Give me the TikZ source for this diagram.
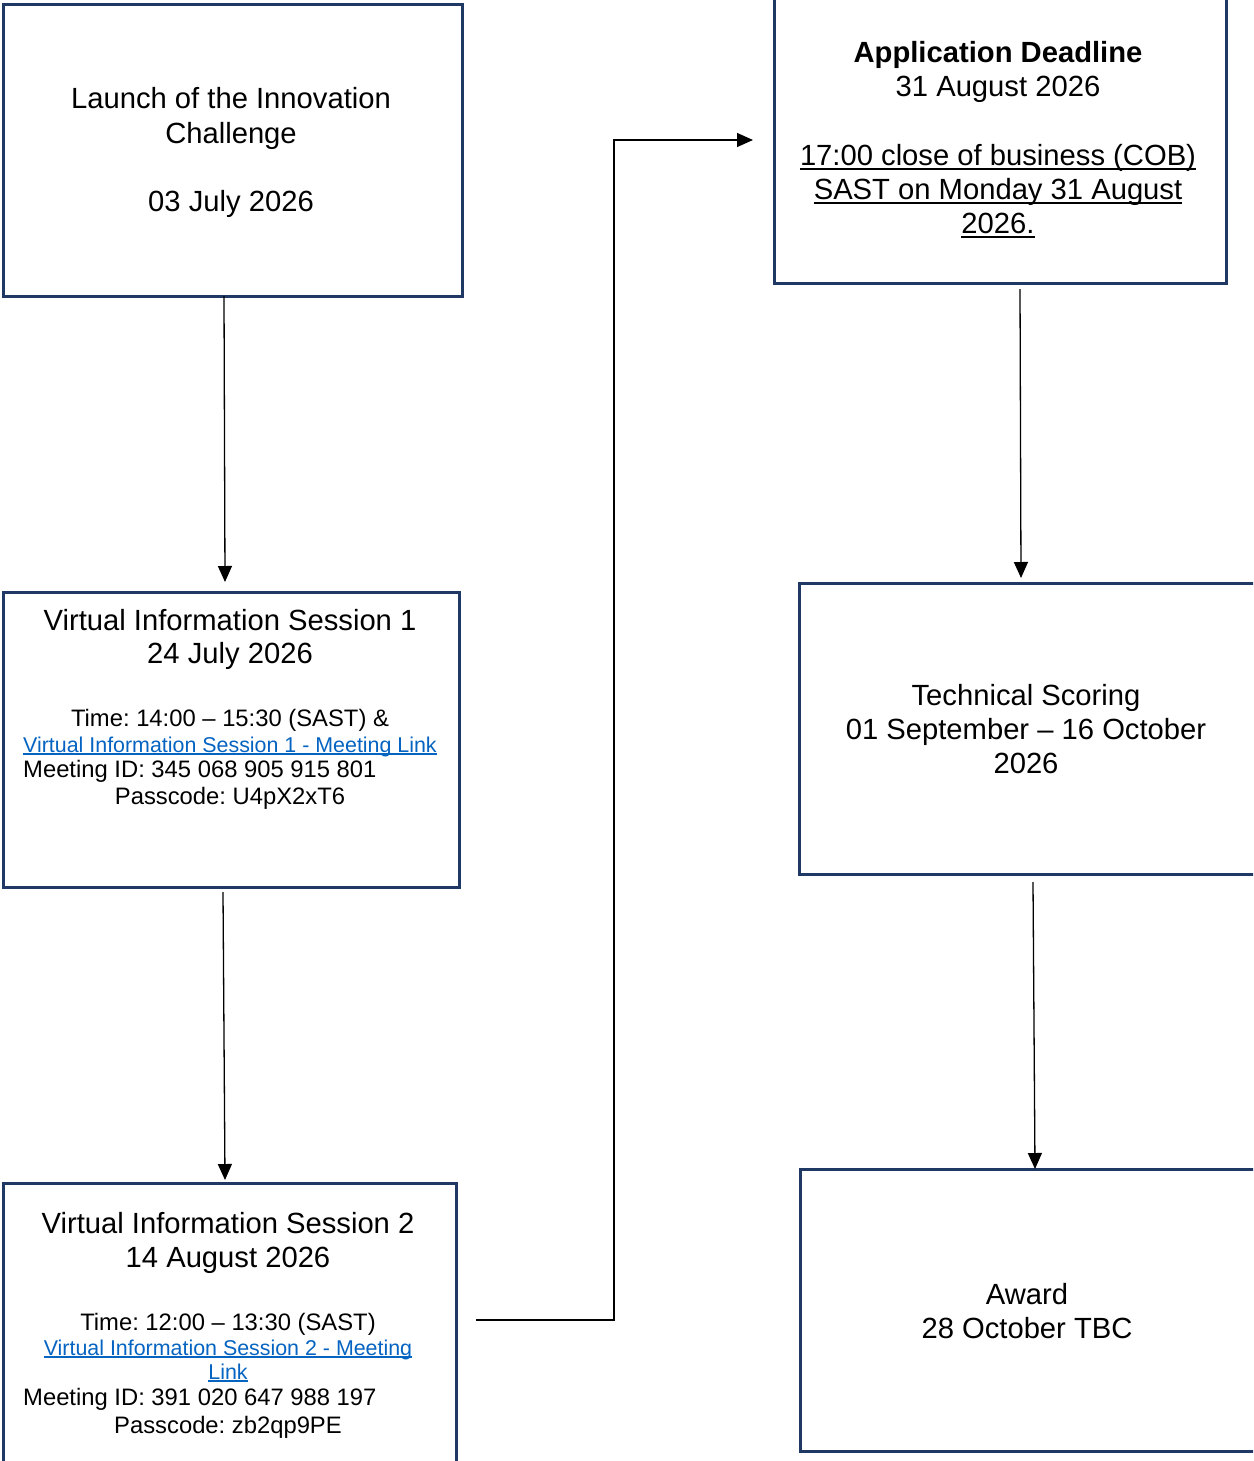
\documentclass[tikz,border=0pt]{standalone}
\usepackage{fontspec}
\setmainfont{Liberation Sans}
\usetikzlibrary{arrows.meta}
\definecolor{navy}{HTML}{1F3864}
\definecolor{linkblue}{HTML}{0563C1}
\newcommand\myul[2]{\setbox0=\hbox{#2}\rlap{\rule[#1]{\wd0}{1.7pt}}\box0}
\frenchspacing
\tikzset{
  box/.style={draw=navy, line width=2.6pt, fill=none, inner sep=0pt, anchor=north west},
  big/.style={font=\fontsize{29.2}{34}\selectfont\frenchspacing, inner sep=0pt, anchor=base},
  small/.style={font=\fontsize{23.8}{26.3}\selectfont\frenchspacing, inner sep=0pt, anchor=base},
  linktext/.style={font=\fontsize{21.4}{24}\selectfont\frenchspacing, inner sep=0pt, anchor=base, text=linkblue},
  arr/.style={draw=black, line width=1.3pt, -{Triangle[width=14pt,length=16pt]}},
}
\begin{document}
\begin{tikzpicture}[x=1pt,y=-1pt]
\useasboundingbox (0,0) rectangle (1253,1461);
\clip (0,0) rectangle (1253,1461);
% boxes
\node[box, minimum width=459pt, minimum height=292pt] (b1) at (2,3) {};
\node[box, minimum width=456pt, minimum height=295pt] (b2) at (2,591) {};
\node[box, minimum width=453pt, minimum height=320pt] (b3) at (2,1182) {};
\node[box, minimum width=452pt, minimum height=294pt] (b4) at (773,-12) {};
\node[box, minimum width=470pt, minimum height=291pt] (b5) at (798,582) {};
\node[box, minimum width=470pt, minimum height=282pt] (b6) at (799,1168) {};
% box 1 text
\node[big] (t11) at (231,109) {Launch of the Innovation};
\node[big] (t12) at (231,143) {Challenge};
\node[big] (t13) at (231,211) {03 July 2026};
% box 2 text
\node[big] (t21) at (230,630) {Virtual Information Session 1};
\node[big] (t22) at (230,663) {24 July 2026};
\node[small] (t23) at (230,726) {Time: 14:00 – 15:30 (SAST) \&};
\node[linktext] (t24) at (230,752) {\myul{-2.6pt}{Virtual Information Session 1 - Meeting Link}};
\node[small, anchor=base west] (t25) at (23,777) {Meeting ID: 345 068 905 915 801};
\node[small] (t26) at (230,804) {Passcode: U4pX2xT6};
% box 3 text
\node[big] (t31) at (228,1233) {Virtual Information Session 2};
\node[big] (t32) at (228,1267) {14 August 2026};
\node[small] (t33) at (228,1330) {Time: 12:00 – 13:30 (SAST)};
\node[linktext] (t34) at (228,1355) {\myul{-2.6pt}{Virtual Information Session 2 - Meeting}};
\node[linktext] (t35) at (228,1379) {\myul{-2.6pt}{Link}};
\node[small, anchor=base west] (t36) at (23,1405) {Meeting ID: 391 020 647 988 197};
\node[small] (t37) at (228,1433) {Passcode: zb2qp9PE};
% box 4 text
\node[big, font=\fontsize{29.2}{34}\selectfont\bfseries] (t41) at (998,63) {Application Deadline};
\node[big] (t42) at (998,97) {31 August 2026};
\node[big] (t43) at (998,165) {\myul{-5pt}{17:00 close of business (COB)}};
\node[big] (t44) at (998,199) {\myul{-5pt}{SAST on Monday 31 August}};
\node[big] (t45) at (998,233) {\myul{-5pt}{2026.}};
% box 5 text
\node[big] (t51) at (1026,705) {Technical Scoring};
\node[big] (t52) at (1026,739) {01 September – 16 October};
\node[big] (t53) at (1026,773) {2026};
% box 6 text
\node[big] (t61) at (1027,1304) {Award};
\node[big] (t62) at (1027,1338) {28 October TBC};
% connector endpoints
\coordinate (a1s) at (224,296);
\coordinate (a1e) at (225,582);
\coordinate (a2s) at (223,892);
\coordinate (a2e) at (225,1180);
\coordinate (a3s) at (476,1320);
\coordinate (a3m1) at (614,1320);
\coordinate (a3m2) at (614,140);
\coordinate (a3e) at (753,140);
\coordinate (a4s) at (1020,289);
\coordinate (a4e) at (1021,578);
\coordinate (a5s) at (1033,882);
\coordinate (a5e) at (1035,1169);
% connectors
\draw[arr] (a1s) -- (a1e);
\draw[arr] (a2s) -- (a2e);
\draw[arr] (a3s) -- (a3m1) -- (a3m2) -- (a3e);
\draw[arr] (a4s) -- (a4e);
\draw[arr] (a5s) -- (a5e);
\end{tikzpicture}
\end{document}
